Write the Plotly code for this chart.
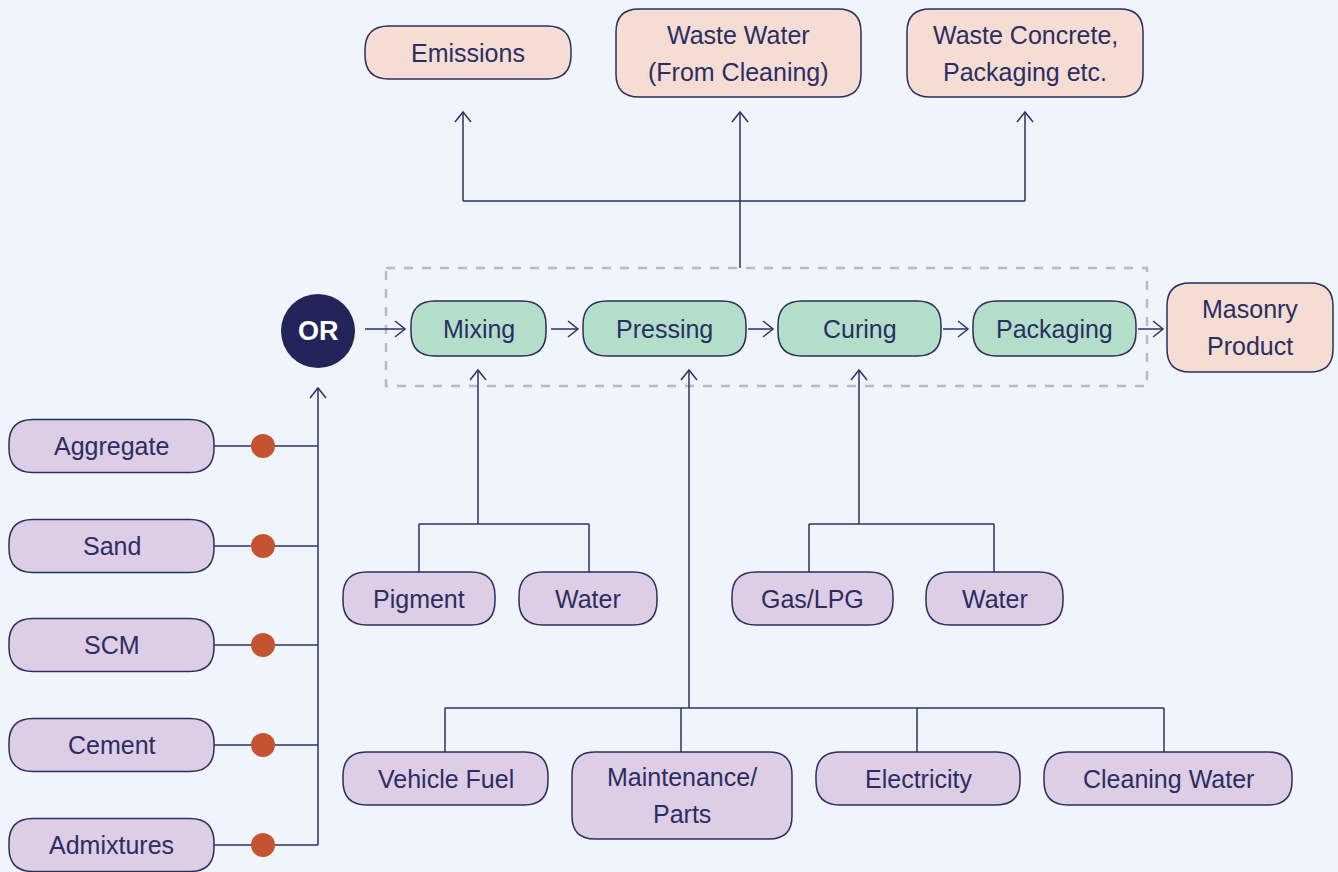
import plotly.graph_objects as go

# ---------------- data (labels) ----------------
outputs = ["Emissions", "Waste Water\n(From Cleaning)", "Waste Concrete,\nPackaging etc."]
process_steps = ["Mixing", "Pressing", "Curing", "Packaging"]
product = "Masonry\nProduct"
raw_materials = ["Aggregate", "Sand", "SCM", "Cement", "Admixtures"]
mixing_inputs = ["Pigment", "Water"]
curing_inputs = ["Gas/LPG", "Water"]
pressing_inputs = ["Vehicle Fuel", "Maintenance/\nParts", "Electricity", "Cleaning Water"]
junction_label = "OR"

# ---------------- styling ----------------
BG = "#eff5fa"
NAVY = "#2b2d63"
LINE = "#2d3066"
PURPLE = "#ddcee5"
GREEN = "#b3dfca"
SALMON = "#f5ddd4"
ORANGE = "#c4542f"
DASH = "#b5bacb"
FONT = "Liberation Sans"
FS = 25
LINE_GAP = 37

W, H = 1338, 872

# ---------------- layout positions (cx, cy, w, h) ----------------
pos_outputs = [(468, 52.5, 206, 53), (738.5, 53, 245, 88), (1025, 53, 236, 88)]
pos_steps = [(478.5, 328.5, 135, 55), (664.5, 328.5, 163, 55), (859.5, 328.5, 163, 55), (1054.5, 328.5, 163, 55)]
pos_product = (1250, 327.5, 166, 89)
pos_raw = [(111.5, y, 205, 53) for y in (446, 546, 645, 745, 845)]
pos_mix_in = [(419, 598.5, 152, 53), (588, 598.5, 138, 53)]
pos_cur_in = [(812.5, 598.5, 161, 53), (994.5, 598.5, 137, 53)]
pos_press_in = [(445.5, 778.5, 205, 53), (682, 795.5, 220, 87), (918, 778.5, 204, 53), (1168, 778.5, 248, 53)]
or_center = (318, 331, 37)

shapes = []
annotations = []


def rrect(cx, cy, w, h, fill, r=None):
    if r is None:
        r = 24 if h < 60 else 23
    x0, x1 = cx - w / 2, cx + w / 2
    y0, y1 = cy - h / 2, cy + h / 2
    p = (f"M {x0 + r},{y0} L {x1 - r},{y0} Q {x1},{y0} {x1},{y0 + r} "
         f"L {x1},{y1 - r} Q {x1},{y1} {x1 - r},{y1} L {x0 + r},{y1} "
         f"Q {x0},{y1} {x0},{y1 - r} L {x0},{y0 + r} Q {x0},{y0} {x0 + r},{y0} Z")
    shapes.append(dict(type="path", path=p, xref="x", yref="y", fillcolor=fill,
                       line=dict(color=NAVY, width=1.5), layer="above"))


def label(cx, cy, text, color=NAVY, size=FS, bold=False):
    lines = text.split("\n")
    n = len(lines)
    for i, ln in enumerate(lines):
        y = cy + (i - (n - 1) / 2) * LINE_GAP
        t = f"<b>{ln}</b>" if bold else ln
        annotations.append(dict(x=cx, y=y, xref="x", yref="y", text=t, showarrow=False,
                                font=dict(family=FONT, size=size, color=color),
                                xanchor="center", yanchor="middle"))


def node(p, text, fill):
    cx, cy, w, h = p
    rrect(cx, cy, w, h, fill)
    label(cx, cy, text)


def seg(x0, y0, x1, y1):
    shapes.append(dict(type="line", x0=x0, y0=y0, x1=x1, y1=y1, xref="x", yref="y",
                       line=dict(color=LINE, width=1.5), layer="above"))


def head_up(x, y):
    shapes.append(dict(type="path", path=f"M {x - 8},{y + 10} L {x},{y} L {x + 8},{y + 10}",
                       xref="x", yref="y", line=dict(color=LINE, width=1.5), layer="above"))


def head_right(x, y):
    shapes.append(dict(type="path", path=f"M {x - 10},{y - 8} L {x},{y} L {x - 10},{y + 8}",
                       xref="x", yref="y", line=dict(color=LINE, width=1.5), layer="above"))


def arrow_up(x, y_from, y_tip):
    seg(x, y_from, x, y_tip)
    head_up(x, y_tip)


def arrow_right(x_from, x_tip, y):
    seg(x_from, y, x_tip, y)
    head_right(x_tip, y)


# dashed process boundary
shapes.append(dict(type="rect", x0=386, y0=268, x1=1147, y1=386, xref="x", yref="y",
                   line=dict(color=DASH, width=2.5, dash="dash"), fillcolor="rgba(0,0,0,0)",
                   layer="above"))

# outputs connectors
seg(463, 201, 1025, 201)
arrow_up(463, 201, 112)
arrow_up(740, 268, 112)
arrow_up(1025, 201, 112)

# process chain arrows
step_arrows = [(365, 405), (551, 578), (748, 773), (943, 968), (1138, 1163)]
for xa, xb in step_arrows:
    arrow_right(xa, xb, 329)

# mixing inputs
arrow_up(478, 524, 370)
seg(419, 524, 589, 524)
for x in (419, 589):
    seg(x, 524, x, 572)

# curing inputs
arrow_up(859, 524, 370)
seg(809, 524, 994, 524)
for x in (809, 994):
    seg(x, 524, x, 572)

# pressing inputs
arrow_up(689, 708, 370)
seg(445, 708, 1164, 708)
for x in (445, 681, 917, 1164):
    seg(x, 708, x, 752)

# raw materials feed
arrow_up(318, 845, 388)
for (cx, cy, w, h) in pos_raw:
    seg(cx + w / 2, cy, 318, cy)

# nodes
for p, t in zip(pos_outputs, outputs):
    node(p, t, SALMON)
for p, t in zip(pos_steps, process_steps):
    node(p, t, GREEN)
node(pos_product, product, SALMON)
for p, t in zip(pos_raw, raw_materials):
    node(p, t, PURPLE)
for p, t in zip(pos_mix_in, mixing_inputs):
    node(p, t, PURPLE)
for p, t in zip(pos_cur_in, curing_inputs):
    node(p, t, PURPLE)
for p, t in zip(pos_press_in, pressing_inputs):
    node(p, t, PURPLE)

# orange dots
for (cx, cy, w, h) in pos_raw:
    shapes.append(dict(type="circle", x0=263 - 12, x1=263 + 12, y0=cy - 12, y1=cy + 12,
                       xref="x", yref="y", fillcolor=ORANGE, line=dict(width=0), layer="above"))

# OR junction
ox, oy, orad = or_center
shapes.append(dict(type="circle", x0=ox - orad, x1=ox + orad, y0=oy - orad, y1=oy + orad,
                   xref="x", yref="y", fillcolor="#22245a", line=dict(width=0), layer="above"))
label(ox, oy, junction_label, color="white", size=27, bold=True)

fig = go.Figure()
fig.update_layout(
    width=W, height=H, autosize=False,
    margin=dict(l=0, r=0, t=0, b=0),
    paper_bgcolor=BG, plot_bgcolor=BG,
    xaxis=dict(range=[0, W], visible=False, fixedrange=True),
    yaxis=dict(range=[H, 0], visible=False, fixedrange=True),
    shapes=shapes, annotations=annotations, showlegend=False,
)
fig.write_html("out.html", config={"displayModeBar": False},
               post_script="document.body.style.margin='0';document.body.style.overflow='hidden';")
